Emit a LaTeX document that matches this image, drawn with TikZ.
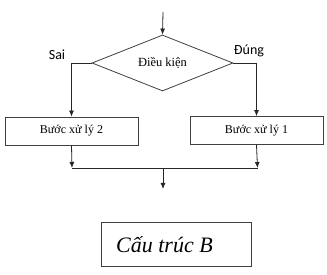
\documentclass[tikz,border=0pt]{standalone}
\usepackage{fontspec}
\setmainfont{Liberation Serif}
\newfontfamily\labfont{Carlito}
\usetikzlibrary{arrows.meta,shapes.geometric}
\begin{document}
\begin{tikzpicture}[x=1pt,y=-1pt,
  line/.style={draw=black!85,line width=0.8pt},
  arr/.style={line,-{Latex[length=6pt,width=5pt]}},
  stepbox/.style={draw=black!75,line width=0.8pt,minimum width=133pt,minimum height=28pt,inner sep=0pt,font=\fontsize{12}{14}\selectfont},
  cond/.style={draw=black!75,line width=0.8pt,diamond,aspect=2.5,inner sep=0pt,minimum width=141pt,minimum height=56pt,font=\fontsize{12.5}{14}\selectfont},
  lab/.style={font=\labfont\fontsize{14}{16}\selectfont,inner sep=0pt}]
\useasboundingbox (0,0) rectangle (327,275);
\fill[white] (0,0) rectangle (327,275);
\coordinate (start) at (163,12);
\node[cond] (d) at (162.5,63) {Điều kiện};
\node[stepbox] (b2) at (71.5,131) {Bước xử lý 2};
\node[stepbox] (b1) at (256.5,130.5) {Bước xử lý 1};
\coordinate (jl) at (72,168);
\coordinate (jr) at (257.5,168);
\coordinate (jm) at (163,168);
\coordinate (end) at (163,189);
\node[lab] (sai) at (57,55) {Sai};
\node[lab] (dung) at (249,51) {Đúng};
\node[draw=black!75,line width=0.8pt,minimum width=150pt,minimum height=44pt,inner sep=0pt] (cap) at (176,244) {};
\node[font=\fontsize{22}{24}\selectfont\itshape,inner sep=0pt,anchor=west] (captext) at (116,245) {Cấu trúc B};
\draw[arr] (start) -- (d.north);
\draw[arr] (d.west) -| (b2.north);
\draw[arr] (d.east) -| (b1.north);
\draw[arr] (b2.south) -- (jl);
\draw[arr] (b1.south) -- (jr);
\draw[line] (jl) -- (jr);
\draw[arr] (jm) -- (end);
\end{tikzpicture}
\end{document}
